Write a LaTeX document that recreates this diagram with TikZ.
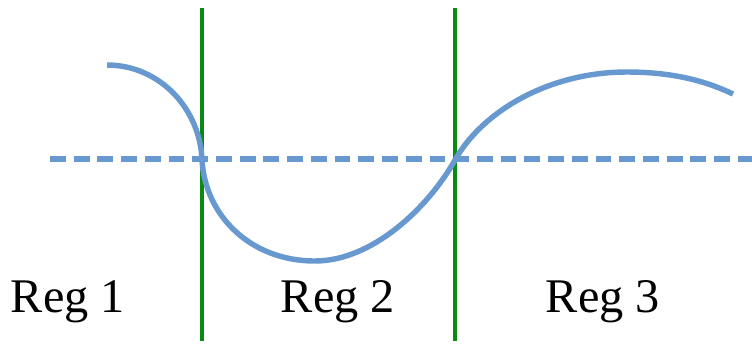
\documentclass[tikz,border=0pt]{standalone}
\usepackage{fontspec}
\setmainfont{Liberation Serif}
\usepackage{tikz}
\definecolor{Wave}{HTML}{6799D0}
\definecolor{Border}{HTML}{0B8A12}

\begin{document}
\begin{tikzpicture}[x=0.02cm,y=-0.02cm]
    \useasboundingbox (0,0) rectangle (752,346);
    % axis
    \draw[Wave,line width=3pt,dash pattern=on 9pt off 4.5pt] (50,159)--(752,159);
    % region borders
    \foreach \x/\nm in {202/left,455/right}
      {
        \draw[Border,line width=2.3pt] (\x,8) coordinate (\nm top)
          -- (\x,341) coordinate (\nm bot);
      }
    % wave
    \draw[Wave,line width=3.1pt]
      (107,65) .. controls (159,65) and (200,108) .. (202,160)
      .. controls (205,215) and (250,261) .. (315,261)
      .. controls (372,261) and (428,208) .. (455,160)
      .. controls (482,112) and (548,72) .. (627,72)
      .. controls (675,72) and (708,82) .. (733,94);
    \foreach \x/\k in {68/1,338/2,603/3}
      {
        \node[anchor=base,inner sep=0pt,font=\fontsize{27.5}{33}\selectfont]
          (reg\k) at (\x,312) {Reg \k};
      }
  \end{tikzpicture}
\end{document}
